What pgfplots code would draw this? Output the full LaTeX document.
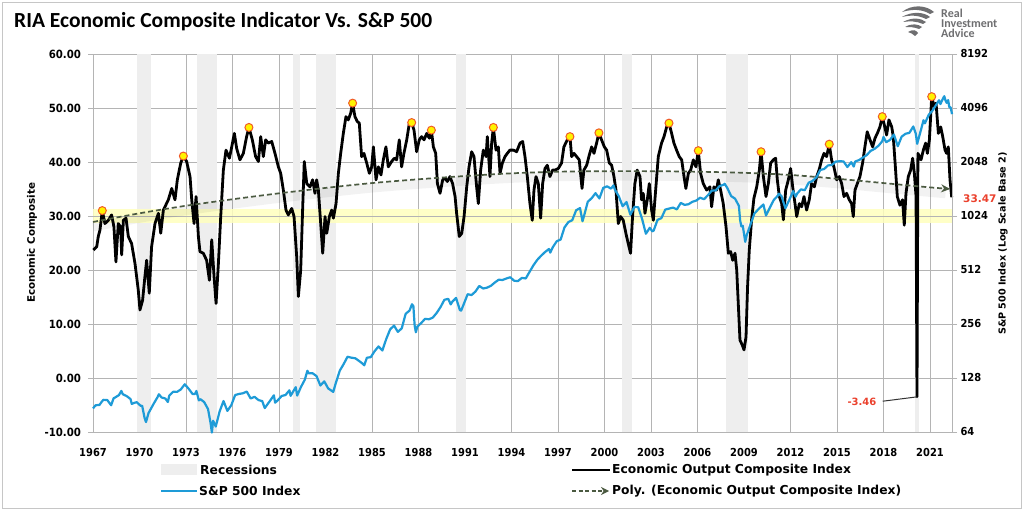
\documentclass[border=0pt]{standalone}
\usepackage{pgfplots}
\pgfplotsset{compat=1.18}
\usetikzlibrary{arrows.meta}
\usepackage{fontspec}
\setmainfont{Carlito}
\newfontfamily\tk{DejaVu Sans}[FakeStretch=0.9]
\newfontfamily\dvs{DejaVu Sans}

\definecolor{spblue}{RGB}{30,155,215}
\definecolor{gridgray}{RGB}{180,180,180}
\definecolor{recgray}{RGB}{238,238,238}
\definecolor{bandyellow}{RGB}{255,255,190}
\definecolor{trendgreen}{RGB}{75,90,65}
\definecolor{annred}{RGB}{235,65,45}
\definecolor{mkred}{RGB}{240,90,40}
\definecolor{logogray}{RGB}{110,110,112}

\begin{document}
\begin{tikzpicture}[x=1pt,y=1pt]
\useasboundingbox (0,0) rectangle (1024,511);
\fill[white] (0,0) rectangle (1024,511);
\draw[gray!45, line width=1pt] (2.5,2.5) rectangle (1021.5,508.5);

% Title
\node[anchor=base west, inner sep=0pt, font=\bfseries\fontsize{21.5}{24}\selectfont] at (14,483.7) {RIA Economic Composite Indicator Vs. S\&P 500};

% Logo
\begin{scope}[logogray]
\fill (902,499) .. controls (912,507) and (926,506) .. (934,499) -- (930,497) .. controls (922,502) and (912,502) .. (902,499) -- cycle;
\fill (902,494) .. controls (912,500) and (924,499) .. (930,494) -- (926,492) .. controls (918,496) and (910,496) .. (902,494) -- cycle;
\fill (903,489) .. controls (912,494) and (921,493) .. (926,489) -- (923,487) .. controls (916,490) and (910,490) .. (903,489) -- cycle;
\fill (905,484) .. controls (912,488) and (918,487) .. (922,484) -- (919,482) .. controls (914,484) and (910,484) .. (905,484) -- cycle;
\fill (908,479) .. controls (913,482) and (916,481) .. (918,478) -- (915,475) .. controls (913,477) and (911,478) .. (908,479) -- cycle;
\end{scope}
\node[anchor=base west, inner sep=0pt, text=logogray, font=\bfseries\fontsize{12}{12}\selectfont] at (941,493) {Real};
\node[anchor=base west, inner sep=0pt, text=logogray, font=\bfseries\fontsize{12}{12}\selectfont] at (941,483) {Investment};
\node[anchor=base west, inner sep=0pt, text=logogray, font=\bfseries\fontsize{12}{12}\selectfont] at (941,473) {Advice};

% ---------- Left axis ----------
\begin{axis}[
  at={(93pt,79pt)}, anchor=south west, width=859pt, height=378pt, scale only axis,
  xmin=1967, xmax=2022.42, ymin=-10, ymax=60,
  axis x line*=bottom, axis y line*=left,
  axis line style={gridgray, line width=0.8pt, -},
  xtick={1967,1970,1973,1976,1979,1982,1985,1988,1991,1994,1997,2000,2003,2006,2009,2012,2015,2018,2021},
  xticklabels={1967,1970,1973,1976,1979,1982,1985,1988,1991,1994,1997,2000,2003,2006,2009,2012,2015,2018,2021},
  ytick={-10,0,10,20,30,40,50,60},
  yticklabels={-10.00,0.00,10.00,20.00,30.00,40.00,50.00,60.00},
  grid=major, major grid style={gridgray, line width=0.8pt},
  tick align=outside, major tick length=5pt,
  ytick style={gridgray, line width=0.8pt},
  xtick style={draw=none},
  xticklabel style={font=\tk\bfseries\fontsize{11}{12}\selectfont, yshift=-8pt},
  yticklabel style={font=\tk\bfseries\fontsize{11.3}{12}\selectfont, xshift=-3.5pt},
  clip=false,
]
% recessions
\addplot[fill=recgray, draw=none, forget plot] coordinates {(1969.84,-10) (1969.84,60) (1970.74,60) (1970.74,-10)} -- cycle;
\addplot[fill=recgray, draw=none, forget plot] coordinates {(1973.70,-10) (1973.70,60) (1975.00,60) (1975.00,-10)} -- cycle;
\addplot[fill=recgray, draw=none, forget plot] coordinates {(1979.90,-10) (1979.90,60) (1980.35,60) (1980.35,-10)} -- cycle;
\addplot[fill=recgray, draw=none, forget plot] coordinates {(1981.40,-10) (1981.40,60) (1982.70,60) (1982.70,-10)} -- cycle;
\addplot[fill=recgray, draw=none, forget plot] coordinates {(1990.42,-10) (1990.42,60) (1991.06,60) (1991.06,-10)} -- cycle;
\addplot[fill=recgray, draw=none, forget plot] coordinates {(2001.10,-10) (2001.10,60) (2001.75,60) (2001.75,-10)} -- cycle;
\addplot[fill=recgray, draw=none, forget plot] coordinates {(2007.84,-10) (2007.84,60) (2009.28,60) (2009.28,-10)} -- cycle;
\addplot[fill=recgray, draw=none, forget plot] coordinates {(2020.06,-10) (2020.06,60) (2020.32,60) (2020.32,-10)} -- cycle;
% yellow band
\addplot[fill=bandyellow, draw=none, opacity=0.85, forget plot] coordinates {(1967,28.75) (1967,31.25) (2022.42,31.25) (2022.42,28.75)} -- cycle;
\addplot[gridgray, line width=0.8pt, forget plot] coordinates {(1967,30) (2022.42,30)};
% trend shadow
\addplot[black, opacity=0.05, line width=9pt, smooth, yshift=-5pt, forget plot] coordinates {
(1967,28.9) (1970,30.5) (1973,31.9) (1976,33.1) (1979,34.2) (1982,35.2) (1985,36.1) (1988,36.8) (1991,37.4) (1994,37.9) (1997,38.2) (2000,38.3) (2003,38.3) (2006,38.2) (2009,38.0) (2012,37.6) (2015,36.9) (2018,36.1) (2021,35.3) (2022.0,35.05)};
% economic composite
\addplot[black, line width=2.8pt, line join=round] coordinates {
(1967.02,23.7) (1967.24,24.3) (1967.34,26.2) (1967.45,27.4) (1967.60,31.0) (1967.77,28.6) (1967.99,29.2) (1968.20,30.2) (1968.35,28.0) (1968.48,21.5) (1968.63,28.6) (1968.78,28.0) (1968.85,22.8) (1968.96,29.2) (1969.13,29.6) (1969.28,26.2) (1969.49,24.9) (1969.71,21.2) (1969.92,16.3) (1970.03,12.6) (1970.20,14.4) (1970.35,18.8) (1970.46,21.8) (1970.63,15.7) (1970.78,24.3) (1971.00,28.6) (1971.22,30.5) (1971.37,26.8) (1971.54,31.1) (1971.86,33.0) (1972.08,35.1) (1972.29,33.0) (1972.44,36.7) (1972.66,39.8) (1972.83,41.1) (1973.04,40.1) (1973.26,37.3) (1973.37,33.0) (1973.52,28.6) (1973.65,33.6) (1973.80,26.2) (1973.90,23.4) (1974.12,23.1) (1974.33,21.8) (1974.51,18.1) (1974.66,25.6) (1974.81,18.8) (1974.94,13.8) (1975.09,21.2) (1975.24,29.9) (1975.41,38.5) (1975.58,42.2) (1975.80,40.7) (1975.95,42.8) (1976.12,45.3) (1976.27,42.5) (1976.48,40.4) (1976.70,41.6) (1976.91,44.7) (1977.06,46.4) (1977.28,44.1) (1977.49,41.0) (1977.67,40.1) (1977.82,44.7) (1977.99,41.0) (1978.14,44.1) (1978.31,43.5) (1978.53,43.8) (1978.74,41.6) (1978.96,39.1) (1979.11,37.9) (1979.28,34.8) (1979.45,31.1) (1979.60,30.2) (1979.82,31.4) (1979.97,29.9) (1980.14,22.5) (1980.25,15.1) (1980.40,20.0) (1980.53,31.7) (1980.63,40.1)
(1980.79,36.0) (1981.00,35.4) (1981.17,36.7) (1981.32,34.2) (1981.43,36.7) (1981.54,34.8) (1981.69,28.6) (1981.82,23.1) (1981.97,29.9) (1982.08,26.8) (1982.25,29.9) (1982.40,31.1) (1982.51,29.6) (1982.68,32.3) (1982.83,37.9) (1982.98,41.6) (1983.15,45.3) (1983.32,48.4) (1983.47,47.8) (1983.62,49.0) (1983.75,50.9) (1983.90,48.4) (1984.05,47.5) (1984.18,47.2) (1984.33,41.0) (1984.48,41.6) (1984.66,39.8) (1984.83,37.9) (1984.98,39.1) (1985.09,42.8) (1985.26,36.7) (1985.41,39.1) (1985.58,37.6) (1985.73,40.4) (1985.90,42.8) (1986.05,39.1) (1986.27,40.1) (1986.44,40.7) (1986.59,40.4) (1986.76,44.1) (1986.91,39.1) (1987.06,41.6) (1987.24,44.1) (1987.41,47.2) (1987.56,47.3) (1987.71,45.9) (1987.88,41.9) (1988.05,44.1) (1988.20,44.7) (1988.36,44.1) (1988.53,45.3) (1988.70,44.4) (1988.83,45.9) (1988.96,42.8) (1989.11,41.6) (1989.22,36.0) (1989.39,34.2) (1989.56,36.7) (1989.71,37.0) (1989.86,36.4) (1990.03,37.3) (1990.20,36.0) (1990.36,33.6) (1990.46,30.5) (1990.63,26.2) (1990.79,26.8) (1990.94,29.9) (1991.11,35.4) (1991.26,39.1) (1991.43,41.9) (1991.58,41.0) (1991.75,35.4) (1991.86,32.3) (1992.01,38.5) (1992.18,42.2) (1992.36,41.0) (1992.44,44.7) (1992.61,37.3) (1992.72,43.5) (1992.83,46.4) (1993.00,42.2) (1993.15,42.8) (1993.26,37.9) (1993.41,39.8) (1993.58,41.0) (1993.73,41.6) (1993.90,42.2)
(1994.12,42.2) (1994.33,41.9) (1994.55,43.5) (1994.72,43.8) (1994.87,41.0) (1995.02,37.3) (1995.19,32.3) (1995.34,29.2) (1995.45,34.8) (1995.58,37.3) (1995.73,36.0) (1995.88,29.6) (1996.01,36.0) (1996.16,38.8) (1996.31,39.4) (1996.48,37.3) (1996.65,38.5) (1996.80,38.5) (1997.02,38.8) (1997.23,39.8) (1997.38,42.8) (1997.60,44.1) (1997.77,44.7) (1997.88,41.0) (1998.03,41.6) (1998.20,41.0) (1998.37,40.4) (1998.55,35.1) (1998.67,38.5) (1998.85,39.4) (1999.02,41.3) (1999.17,42.8) (1999.32,41.6) (1999.49,43.5) (1999.64,45.4) (1999.81,44.1) (1999.99,42.8) (2000.14,42.2) (2000.31,39.8) (2000.46,39.4) (2000.61,37.3) (2000.74,34.8) (2000.89,28.6) (2001.04,29.9) (2001.21,29.2) (2001.38,26.8) (2001.53,24.9) (2001.68,23.1) (2001.81,29.9) (2001.96,36.0) (2002.11,38.5) (2002.29,37.3) (2002.39,33.0) (2002.50,34.2) (2002.61,30.5) (2002.76,33.0) (2002.89,36.0) (2003.04,31.1) (2003.15,29.2) (2003.30,34.8) (2003.47,41.0) (2003.68,43.5) (2003.84,44.7) (2004.01,46.5) (2004.16,47.2) (2004.33,45.3) (2004.48,43.5) (2004.65,42.2) (2004.82,41.0) (2004.98,40.4) (2005.13,37.3) (2005.25,35.1) (2005.41,37.9) (2005.56,38.5) (2005.73,40.4) (2005.90,39.1) (2006.05,42.1) (2006.20,37.9) (2006.37,36.0) (2006.59,34.8) (2006.80,35.4) (2006.91,31.7) (2007.06,35.4) (2007.23,34.8) (2007.34,36.7) (2007.49,34.8) (2007.66,32.3)
(2007.84,28.0) (2007.99,23.1) (2008.14,23.4) (2008.27,21.8) (2008.42,23.1) (2008.53,20.0) (2008.63,13.8) (2008.74,7.0) (2008.89,6.1) (2009.00,5.2) (2009.13,7.6) (2009.23,16.9) (2009.34,23.7) (2009.49,29.3) (2009.64,33.3) (2009.82,35.4) (2009.99,38.5) (2010.10,41.9) (2010.25,37.3) (2010.42,33.6) (2010.57,36.0) (2010.72,39.8) (2010.89,40.4) (2011.04,40.7) (2011.15,36.7) (2011.28,33.6) (2011.43,32.3) (2011.54,29.3) (2011.69,34.8) (2011.86,36.7) (2012.01,38.8) (2012.14,35.4) (2012.29,32.3) (2012.40,29.9) (2012.57,32.3) (2012.72,31.7) (2012.87,33.6) (2013.04,31.1) (2013.21,33.0) (2013.36,36.0) (2013.54,35.4) (2013.69,37.3) (2013.84,38.5) (2014.01,40.4) (2014.16,41.6) (2014.33,41.0) (2014.50,43.3) (2014.65,40.4) (2014.80,39.1) (2014.98,36.7) (2015.15,37.3) (2015.30,36.0) (2015.45,33.6) (2015.62,34.2) (2015.79,33.0) (2015.94,32.3) (2016.05,29.9) (2016.16,34.8) (2016.31,36.0) (2016.48,37.3) (2016.65,39.8) (2016.80,42.8) (2016.95,45.6) (2017.13,44.1) (2017.30,42.8) (2017.45,44.4) (2017.60,45.3) (2017.77,46.5) (2017.92,48.4) (2018.05,46.9) (2018.20,45.0) (2018.35,47.8) (2018.53,46.5) (2018.63,44.7) (2018.78,38.5) (2018.89,33.6) (2019.06,32.0) (2019.23,33.0) (2019.34,28.3) (2019.45,34.2) (2019.60,37.3) (2019.75,38.5) (2019.88,40.7) (2019.99,37.9) (2020.10,33.6) (2020.16,-3.46) (2020.22,41.6) (2020.42,40.4) (2020.57,42.2) (2020.72,43.5) (2020.83,41.6) (2020.96,44.1) (2021.11,52.1) (2021.26,50.3) (2021.39,50.9) (2021.54,45.3) (2021.69,46.5) (2021.82,44.7) (2021.97,42.2) (2022.07,41.6) (2022.18,42.8) (2022.29,36.7) (2022.40,33.47)
};
% trend line
\addplot[trendgreen, line width=1.7pt, dash pattern=on 5pt off 3pt, smooth, -{Stealth[length=9pt,width=8pt]}] coordinates {
(1967,28.9) (1970,30.5) (1973,31.9) (1976,33.1) (1979,34.2) (1982,35.2) (1985,36.1) (1988,36.8) (1991,37.4) (1994,37.9) (1997,38.2) (2000,38.3) (2003,38.3) (2006,38.2) (2009,38.0) (2012,37.6) (2015,36.9) (2018,36.1) (2021,35.3) (2022.3,35.0)};
% peak markers
\addplot[only marks, mark=*, mark size=4pt, mark options={fill=yellow, draw=mkred, line width=1pt}] coordinates {
(1967.60,31.0) (1972.83,41.1) (1977.06,46.4) (1983.75,50.9) (1987.56,47.3) (1988.83,45.9) (1992.83,46.4) (1997.77,44.7) (1999.64,45.4) (2004.16,47.2) (2006.05,42.1) (2010.10,41.9) (2014.50,43.3) (2017.92,48.4) (2021.11,52.1)};
% annotation
\draw[black!80, line width=1pt] (axis cs:2017.95,-4.3) -- (axis cs:2020.14,-3.5);
\node[anchor=east, inner sep=0pt, text=annred, font=\dvs\bfseries\fontsize{10}{12}\selectfont] at (axis cs:2017.55,-4.4) {-3.46};
\end{axis}

% ---------- Right axis ----------
\begin{axis}[
  at={(93pt,79pt)}, anchor=south west, width=859pt, height=378pt, scale only axis,
  xmin=1967, xmax=2022.42, ymode=log, log basis y=2, ymin=64, ymax=8192,
  axis x line=none, axis y line*=right,
  axis line style={gridgray, line width=0.8pt, -},
  ytick={64,128,256,512,1024,2048,4096,8192},
  yticklabels={64,128,256,512,1024,2048,4096,8192},
  tick align=outside, major tick length=5pt,
  ytick style={gridgray, line width=0.8pt},
  yticklabel style={font=\tk\bfseries\fontsize{11}{12}\selectfont},
  clip=false,
]
\addplot[spblue, line width=2.2pt, line join=round] coordinates {
(1967.00,86.6) (1967.17,90.2) (1967.42,90.6) (1967.58,94.8) (1967.67,96.7) (1967.92,96.5) (1968.17,90.2) (1968.33,98.7) (1968.42,99.6) (1968.67,102.7) (1968.83,108.4) (1968.92,103.9) (1969.17,101.5) (1969.42,97.7) (1969.50,91.8) (1969.67,93.1) (1969.83,93.8) (1969.92,92.1) (1970.08,89.5) (1970.17,89.6) (1970.33,76.6) (1970.42,72.7) (1970.58,81.5) (1970.67,84.2) (1970.92,92.2) (1971.17,100.3) (1971.25,103.9) (1971.42,99.7) (1971.67,98.3) (1971.83,94.0) (1971.92,102.1) (1972.17,107.2) (1972.42,107.1) (1972.67,110.6) (1972.92,118.1) (1973.17,111.5) (1973.42,104.3) (1973.58,104.3) (1973.67,108.4) (1973.83,96.0) (1973.92,97.6) (1974.17,94.0) (1974.42,86.0) (1974.58,72.2) (1974.67,63.5) (1974.75,73.9) (1974.92,68.6) (1975.17,83.4) (1975.42,95.2) (1975.67,83.9) (1975.92,90.2) (1976.17,102.8) (1976.42,104.3) (1976.67,105.2) (1976.92,107.5) (1977.17,98.4) (1977.42,100.5) (1977.67,96.5) (1977.92,95.1) (1978.08,87.0) (1978.42,95.5) (1978.67,102.5) (1978.75,93.2) (1978.92,96.1) (1979.17,101.6) (1979.42,102.9) (1979.67,109.3) (1979.75,101.8) (1979.92,107.9) (1980.08,113.7) (1980.17,102.1) (1980.42,114.2) (1980.67,125.5) (1980.83,140.5) (1980.92,135.8) (1981.17,136.0) (1981.42,131.2) (1981.67,116.2) (1981.92,122.6) (1982.17,112.0) (1982.50,107.1) (1982.67,120.4) (1982.92,140.6) (1983.17,153.0) (1983.42,168.1) (1983.67,166.1) (1983.92,164.9) (1984.17,159.2) (1984.42,153.2) (1984.50,150.7) (1984.67,166.1) (1984.92,167.2) (1985.17,180.7) (1985.42,191.9) (1985.67,182.1) (1985.92,211.3) (1986.17,238.9) (1986.42,250.8) (1986.67,231.3) (1986.92,242.2) (1987.17,291.7) (1987.42,304.0) (1987.58,329.8) (1987.67,321.8) (1987.75,251.8) (1987.83,230.3) (1987.92,247.1) (1988.17,258.9) (1988.42,273.5) (1988.67,272.0) (1988.92,277.7) (1989.17,294.9) (1989.42,318.0) (1989.67,349.2) (1989.92,353.4) (1990.08,329.1) (1990.17,339.9) (1990.42,358.0) (1990.67,306.1) (1990.75,304.0) (1990.92,330.2) (1991.17,375.2) (1991.42,371.2) (1991.67,387.9) (1991.92,417.1) (1992.17,403.7) (1992.42,408.1) (1992.67,417.8) (1992.92,435.7) (1993.17,451.7) (1993.42,450.5) (1993.67,458.9) (1993.92,466.5) (1994.17,445.8) (1994.42,444.3) (1994.67,462.7) (1994.92,459.3) (1995.17,500.7) (1995.42,544.8) (1995.67,584.4) (1995.92,615.9) (1996.17,645.5) (1996.42,670.6) (1996.50,639.9) (1996.67,687.3) (1996.92,740.7) (1997.17,757.1) (1997.42,885.1) (1997.67,947.3) (1997.92,970.4) (1998.17,1101.8) (1998.42,1133.8) (1998.58,957.3) (1998.67,1017.0) (1998.92,1229.2) (1999.17,1286.4) (1999.42,1372.7) (1999.67,1282.7) (1999.92,1469.3) (2000.17,1498.6) (2000.42,1454.6) (2000.58,1517.7) (2000.67,1436.5) (2000.92,1320.3) (2001.17,1160.3) (2001.42,1224.4) (2001.67,1040.9) (2001.92,1148.1) (2002.17,1147.4) (2002.42,989.8) (2002.67,815.3) (2002.92,879.8) (2003.08,841.2) (2003.17,848.2) (2003.42,974.5) (2003.67,996.0) (2003.92,1111.9) (2004.17,1126.2) (2004.42,1140.8) (2004.67,1114.6) (2004.92,1211.9) (2005.17,1180.6) (2005.42,1191.3) (2005.67,1228.8) (2005.92,1248.3) (2006.17,1294.9) (2006.42,1270.2) (2006.67,1335.9) (2006.92,1418.3) (2007.17,1420.9) (2007.42,1503.4) (2007.67,1526.8) (2007.75,1549.4) (2007.92,1468.4) (2008.17,1322.7) (2008.42,1280.0) (2008.67,1166.4) (2008.75,968.8) (2008.83,896.2) (2008.92,903.3) (2009.08,735.1) (2009.17,797.9) (2009.42,919.3) (2009.67,1057.1) (2009.92,1115.1) (2010.17,1169.4) (2010.25,1186.7) (2010.42,1030.7) (2010.67,1141.2) (2010.92,1257.6) (2011.17,1325.8) (2011.25,1363.6) (2011.42,1320.6) (2011.67,1131.4) (2011.92,1257.6) (2012.17,1408.5) (2012.33,1310.3) (2012.42,1362.2) (2012.67,1440.7) (2012.92,1426.2) (2013.17,1569.2) (2013.42,1606.3) (2013.67,1681.6) (2013.92,1848.4) (2014.17,1872.3) (2014.42,1960.2) (2014.67,1972.3) (2014.92,2058.9) (2015.17,2067.9) (2015.42,2063.1) (2015.67,1920.0) (2015.92,2043.9) (2016.08,1932.2) (2016.17,2059.7) (2016.42,2098.9) (2016.67,2168.3) (2016.92,2238.8) (2017.17,2362.7) (2017.42,2423.4) (2017.67,2519.4) (2017.92,2673.6) (2018.00,2823.8) (2018.17,2640.9) (2018.42,2718.4) (2018.67,2914.0) (2018.92,2506.9) (2019.17,2834.4) (2019.42,2941.8) (2019.67,2976.7) (2019.92,3230.8) (2020.08,2954.2) (2020.17,2584.6) (2020.42,3100.3) (2020.58,3500.3) (2020.67,3363.0) (2020.92,3756.1) (2021.17,3972.9) (2021.42,4297.5) (2021.58,4522.7) (2021.67,4307.5) (2021.83,4605.4) (2021.92,4766.2) (2022.00,4515.6) (2022.08,4373.9) (2022.17,4530.4) (2022.25,4131.9) (2022.33,4132.2) (2022.42,3785.4)
};
\end{axis}

% axis titles
\node[rotate=90, font=\dvs\bfseries\fontsize{10.3}{12}\selectfont] at (32,268) {Economic Composite};
\node[rotate=90, font=\dvs\bfseries\fontsize{9.6}{12}\selectfont] at (1003,267.5) {S\&P 500 Index (Log Scale Base 2)};
\node[anchor=west, inner sep=0pt, text=annred, font=\dvs\bfseries\fontsize{10.5}{12}\selectfont] at (963,312) {33.47};

% legend
\fill[recgray] (161,36) rectangle (197,47);
\node[anchor=west, inner sep=0pt, font=\dvs\bfseries\fontsize{12.3}{14}\selectfont] at (200,41) {Recessions};
\draw[black, line width=2.8pt] (572,41) -- (610,41);
\node[anchor=west, inner sep=0pt, font=\dvs\bfseries\fontsize{12.3}{14}\selectfont] at (612,41) {Economic Output Composite Index};
\draw[spblue, line width=2.6pt] (161,20) -- (197,20);
\node[anchor=west, inner sep=0pt, font=\dvs\bfseries\fontsize{12.3}{14}\selectfont] at (199,20) {S\&P 500 Index};
\draw[trendgreen, line width=1.7pt, dash pattern=on 4pt off 2.5pt, -{Stealth[length=8pt,width=8pt]}] (572,20) -- (609,20);
\node[anchor=west, inner sep=0pt, font=\dvs\bfseries\fontsize{12.3}{14}\selectfont] at (612,20) {Poly. (Economic Output Composite Index)};
\end{tikzpicture}
\end{document}
